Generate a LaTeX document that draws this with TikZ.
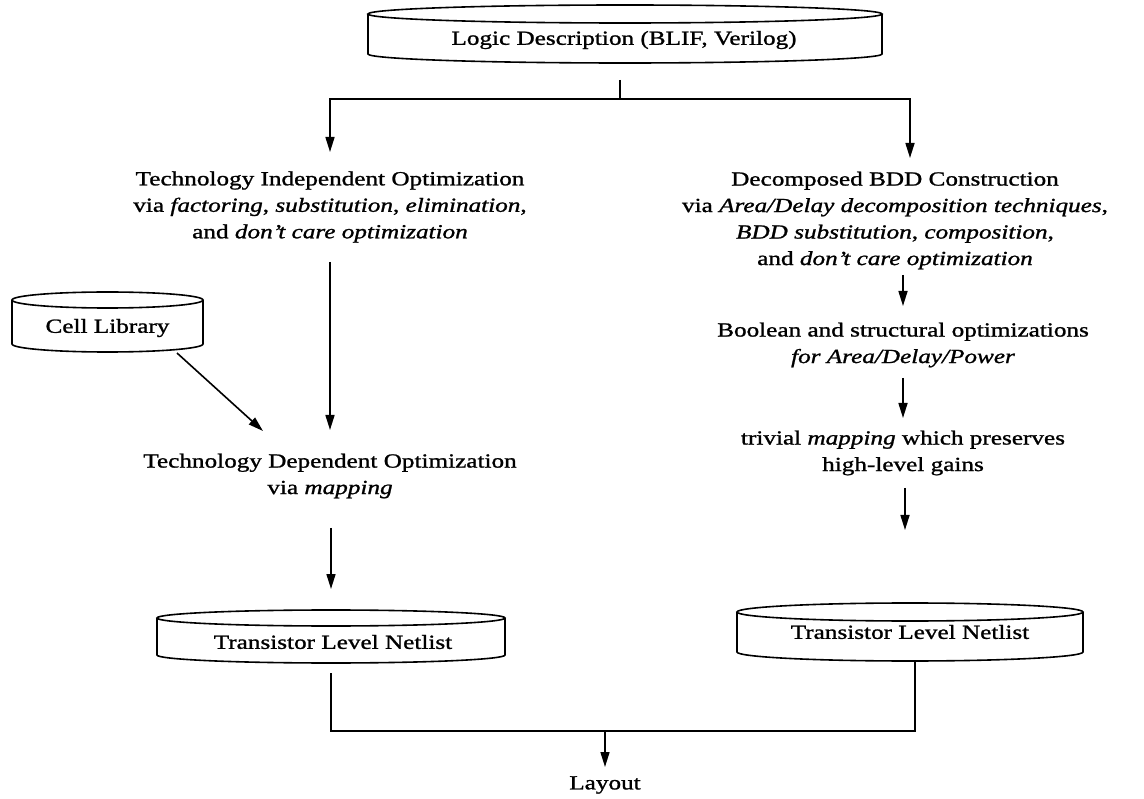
\documentclass[tikz,border=0pt]{standalone}
\usepackage{fontspec}
\setmainfont{Liberation Serif}[FakeStretch=1.26,FakeBold=1.2]
\usetikzlibrary{arrows.meta}

% flat drum: centre x, top y, bottom y, half width, ellipse half height
\newcommand{\drum}[5]{%
  \draw[drumline] (#1,#2+#5) ellipse [x radius=#4, y radius=#5];
  \draw[drumline] (#1-#4,#2+#5) -- (#1-#4,#3-#5)
    arc[start angle=180, end angle=0, x radius=#4, y radius=#5]
    -- (#1+#4,#2+#5);
}

\begin{document}
\begin{tikzpicture}[x=1pt,y=-1pt,
  drumline/.style={line width=1.6pt},
  flow/.style={line width=1.6pt},
  arr/.style={flow,-{Triangle[length=15pt,width=9pt]}},
  txt/.style={inner sep=0pt, align=center, font=\fontsize{20}{26.5}\selectfont},
]
\useasboundingbox (0,0) rectangle (1144,799);

% ---- source ----
\drum{625}{5}{63}{257}{9}
\node[txt] (logic) at (624,40) {Logic Description (BLIF, Verilog)};
\coordinate (logicstem) at (620,80);
\coordinate (split) at (620,99);

% ---- left flow ----
\coordinate (tiin) at (330,152);
\node[txt] (ti) at (330,207) {Technology Independent Optimization\\
  via \textit{factoring}, \textit{substitution}, \textit{elimination},\\
  and \textit{don't care optimization}};
\coordinate (tiout) at (330,262);
\coordinate (tdin) at (330,430);

\drum{107.5}{292}{352}{95.5}{8}
\node[txt] (cell) at (107.5,328) {Cell Library};
\coordinate (cellout) at (177,353);
\coordinate (cellin) at (263,431);

\node[txt] (td) at (330,476) {Technology Dependent Optimization\\ via \textit{mapping}};
\coordinate (tdout) at (331,528);
\coordinate (lnlin) at (331,589);

\drum{331}{610}{663}{174}{8}
\node[txt] (lnl) at (333,642) {Transistor Level Netlist};
\coordinate (lnlout) at (331,673);

% ---- right flow ----
\coordinate (dbin) at (910,158);
\node[txt] (db) at (895,220.5) {Decomposed BDD Construction\\
  via \textit{Area/Delay decomposition techniques},\\
  \textit{BDD substitution}, \textit{composition},\\
  and \textit{don't care optimization}};
\coordinate (dbout) at (903,275);
\coordinate (boin) at (903,306);

\node[txt] (bo) at (903,345) {Boolean and structural optimizations\\
  \textit{for Area/Delay/Power}};
\coordinate (boout) at (903,378);
\coordinate (trin) at (903,418);

\node[txt] (tr) at (903,453) {trivial \textit{mapping} which preserves\\ high-level gains};
\coordinate (trout) at (905,488);
\coordinate (rnlin) at (905,530);

\drum{910}{603}{661}{173}{9}
\node[txt] (rnl) at (910,632) {Transistor Level Netlist};
\coordinate (rnlout) at (915,661);

% ---- sink ----
\coordinate (join) at (605,731);
\coordinate (layin) at (605,767);
\node[txt] (lay) at (605,785) {Layout};

% ---- connectors ----
\draw[flow] (logicstem) -- (split);
\draw[arr] (split) -| (tiin);
\draw[arr] (split) -| (dbin);
\draw[arr] (tiout) -- (tdin);
\draw[arr] (cellout) -- (cellin);
\draw[arr] (tdout) -- (lnlin);
\draw[arr] (dbout) -- (boin);
\draw[arr] (boout) -- (trin);
\draw[arr] (trout) -- (rnlin);
\draw[flow] (lnlout) |- (join);
\draw[flow] (rnlout) |- (join);
\draw[arr] (join) -- (layin);
\end{tikzpicture}
\end{document}
